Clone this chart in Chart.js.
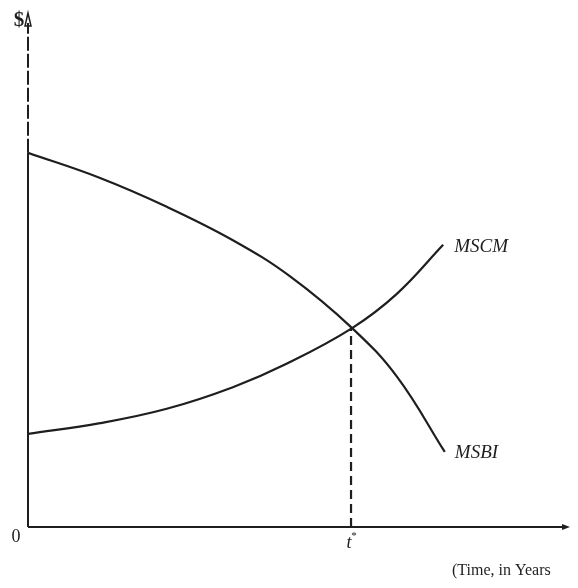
<!DOCTYPE html>
<html>
<head>
<meta charset="utf-8">
<script src="https://cdn.jsdelivr.net/npm/chart.js@4/dist/chart.umd.min.js"></script>
<style>
  html, body { margin: 0; padding: 0; background: #ffffff; }
  #wrap { width: 578px; height: 588px; position: relative; }
</style>
</head>
<body>
<div id="wrap"><canvas id="c" width="578" height="588"></canvas></div>
<script>
// Time (x) and dollar (y) values (arbitrary units 0-100)
const msbiX = [0, 13.3, 25.6, 37.8, 48.3, 59.8, 68.1, 76.9];
const msbiY = [72.8, 67.9, 62.3, 55.8, 48.8, 38.7, 29.2, 14.6];
const mscmX = [0, 13.3, 25.6, 37.8, 47.8, 59.8, 68.0, 76.6];
const mscmY = [18.1, 20.2, 23.0, 27.2, 31.8, 38.7, 45.3, 54.9];
const tStar = 59.6;          // optimal time t*
const tStarValue = 38.7;     // value at the intersection
const seriesLabels = ['MSBI', 'MSCM'];
const axisLabels = { y: '$', x: '(Time, in Years', origin: '0', t: 't' };

const pts = (xs, ys) => xs.map((x, i) => ({ x: x, y: ys[i] }));
const INK = '#1e1e1e';

const annot = {
  id: 'annot',
  beforeDatasetsDraw(chart) {
    const { ctx, scales: { x, y } } = chart;
    const x0 = x.getPixelForValue(0), y0 = y.getPixelForValue(0);
    const yTop = y.getPixelForValue(100), xEnd = x.getPixelForValue(100);
    const yBreak = y.getPixelForValue(msbiY[0]);
    ctx.save();
    ctx.strokeStyle = INK;
    ctx.lineWidth = 2;
    ctx.beginPath(); ctx.moveTo(x0, y0); ctx.lineTo(x0, yBreak); ctx.stroke();
    ctx.setLineDash([14, 3]);
    ctx.beginPath(); ctx.moveTo(x0, yBreak); ctx.lineTo(x0, yTop + 10); ctx.stroke();
    ctx.setLineDash([]);
    ctx.beginPath(); ctx.moveTo(x0, y0); ctx.lineTo(xEnd - 4, y0); ctx.stroke();
    ctx.lineWidth = 1.5;
    ctx.beginPath(); ctx.moveTo(x0, yTop); ctx.lineTo(x0 - 3, yTop + 13); ctx.lineTo(x0 + 3, yTop + 13); ctx.closePath(); ctx.stroke();
    ctx.fillStyle = INK;
    ctx.beginPath(); ctx.moveTo(xEnd, y0); ctx.lineTo(xEnd - 8, y0 - 3); ctx.lineTo(xEnd - 8, y0 + 3); ctx.closePath(); ctx.fill();
    ctx.restore();
  },
  afterDatasetsDraw(chart) {
    const { ctx, scales: { x, y } } = chart;
    const x0 = x.getPixelForValue(0), y0 = y.getPixelForValue(0);
    const yTop = y.getPixelForValue(100);
    ctx.save();
    ctx.fillStyle = INK;
    ctx.textBaseline = 'middle';
    ctx.font = 'bold 21px "Liberation Serif", serif';
    ctx.textAlign = 'center';
    ctx.fillText(axisLabels.y, x0 - 9, yTop + 8);
    ctx.font = '18px "Liberation Serif", serif';
    ctx.fillText(axisLabels.origin, x0 - 12, y0 + 10);
    const tx = x.getPixelForValue(tStar);
    ctx.font = 'italic 18px "Liberation Serif", serif';
    ctx.fillText(axisLabels.t, tx - 2, y0 + 16);
    ctx.font = '11px "Liberation Serif", serif';
    ctx.fillText('*', tx + 3, y0 + 9);
    ctx.textAlign = 'left';
    ctx.font = 'italic 19px "Liberation Serif", serif';
    ctx.fillText(seriesLabels[1], x.getPixelForValue(mscmX[mscmX.length - 1]) + 11, y.getPixelForValue(mscmY[mscmY.length - 1]) + 2);
    ctx.fillText(seriesLabels[0], x.getPixelForValue(msbiX[msbiX.length - 1]) + 10, y.getPixelForValue(msbiY[msbiY.length - 1]) + 1);
    ctx.font = '16px "Liberation Serif", serif';
    ctx.fillText(axisLabels.x, 452, y0 + 44);
    ctx.restore();
  }
};

new Chart(document.getElementById('c'), {
  type: 'line',
  data: {
    datasets: [
      { label: seriesLabels[0], data: pts(msbiX, msbiY), borderColor: INK, borderWidth: 2.2, pointRadius: 0, tension: 0.4, fill: false },
      { label: seriesLabels[1], data: pts(mscmX, mscmY), borderColor: INK, borderWidth: 2.2, pointRadius: 0, tension: 0.4, fill: false },
      { label: 't*', data: [{ x: tStar, y: 0 }, { x: tStar, y: tStarValue }], borderColor: INK, borderWidth: 2.2, borderDash: [9, 5], pointRadius: 0, fill: false }
    ]
  },
  options: {
    responsive: false,
    animation: false,
    layout: { padding: { left: 28, right: 8, top: 13, bottom: 61 } },
    plugins: { legend: { display: false }, tooltip: { enabled: false } },
    scales: {
      x: { type: 'linear', min: 0, max: 100, display: false },
      y: { type: 'linear', min: 0, max: 100, display: false }
    }
  },
  plugins: [annot]
});
</script>
</body>
</html>
